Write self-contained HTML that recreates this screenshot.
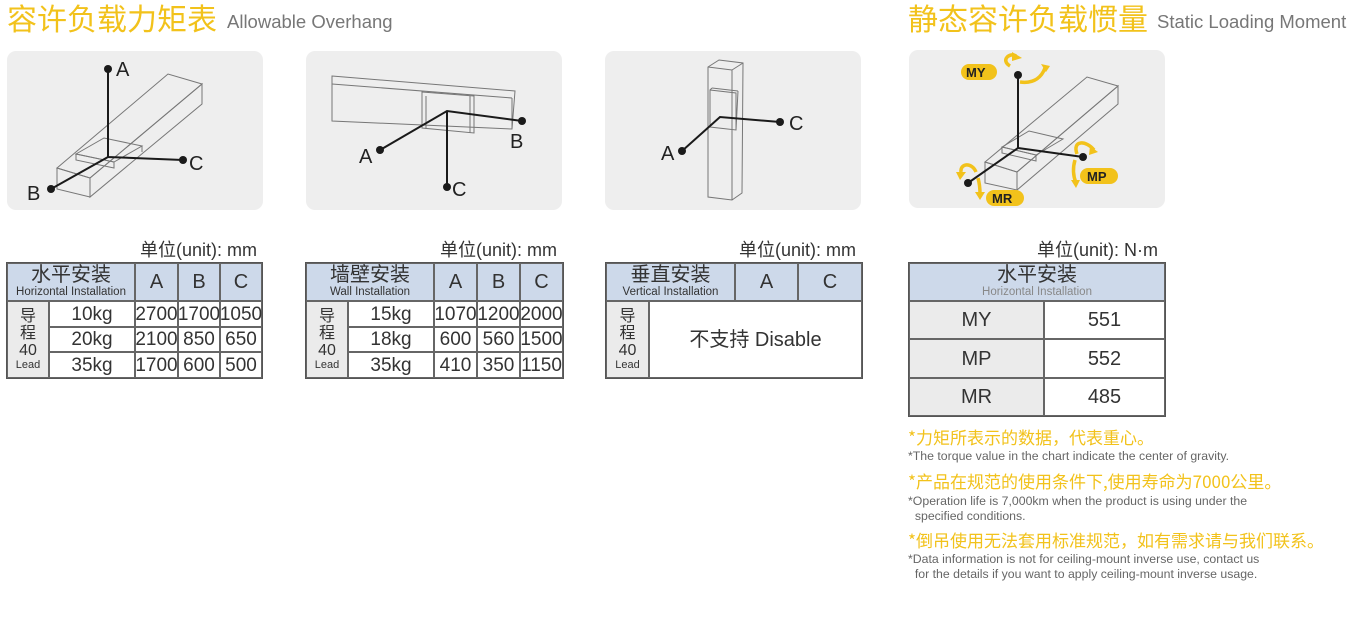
<!DOCTYPE html>
<html><head><meta charset="utf-8"><style>
*{margin:0;padding:0;box-sizing:border-box}
body{width:1370px;height:618px;background:#fff;position:relative;overflow:hidden;font-family:"Liberation Sans","Noto Sans CJK SC",sans-serif;color:#333}
.a{position:absolute;white-space:nowrap}
.t{color:#f2c21b;font-size:30px;font-family:"Noto Sans CJK SC",sans-serif;line-height:34px}
.ts{color:#777;font-size:18.5px;font-family:"Liberation Sans",sans-serif}
.panel{position:absolute;background:#eeeeee;border-radius:9px}
.cell{position:absolute;display:flex;align-items:center;justify-content:center;flex-direction:column;border:1px solid #666;font-size:19px;line-height:1;color:#333}
.h{background:#cdd9ea}
.h:not(.w){font-size:20px}
.g{background:#ebebeb}
.unit{position:absolute;font-size:18px;font-family:"Liberation Sans","Noto Sans CJK SC",sans-serif;color:#333}
.n1{color:#f2c21b;font-size:17px;font-family:"Noto Sans CJK SC",sans-serif}
.n2{color:#666;font-size:12.3px;line-height:14.5px}
</style></head><body>
<div class="a t" style="left:7px;top:0px">容许负载力矩表</div>
<div class="a ts" style="left:227px;top:11px">Allowable Overhang</div>
<div class="a t" style="left:908px;top:0px">静态容许负载惯量</div>
<div class="a ts" style="left:1157px;top:11px">Static Loading Moment</div>

<div class="panel" style="left:7px;top:51px;width:256px;height:159px"></div>
<div class="panel" style="left:306px;top:51px;width:256px;height:159px"></div>
<div class="panel" style="left:605px;top:51px;width:256px;height:159px"></div>
<div class="panel" style="left:909px;top:50px;width:256px;height:158px"></div>

<svg class="a" style="left:0;top:0" width="1370" height="618" font-family="Liberation Sans,sans-serif" font-size="20" fill="#222">
<g fill="none" stroke="#777" stroke-width="1">
<polygon points="57,168 168,74 202,84 90,178"/>
<polygon points="90,178 202,84 202,104 90,197"/>
<polygon points="57,168 90,178 90,197 57,189"/>
<polygon points="76,154 104,138 142,146 114,162"/>
<polygon points="76,154 114,162 114,168 76,160"/>
<line x1="142" y1="146" x2="142" y2="152"/>
<polygon points="332,76 515,91 512,129 332,121"/>
<line x1="332" y1="84" x2="512" y2="98"/>
<line x1="512" y1="98" x2="512" y2="129"/>
<polygon points="422,92 474,96 474,133 422,128"/>
<line x1="426" y1="96" x2="426" y2="129"/>
<line x1="470" y1="96" x2="470" y2="133"/>
<polygon points="708,67 719,60 743,63 742,193 732,200 708,197"/>
<line x1="708" y1="67" x2="732" y2="70"/>
<line x1="732" y1="70" x2="743" y2="63"/>
<line x1="732" y1="70" x2="732" y2="200"/>
<polygon points="710,90 736,93 736,130 710,127"/>
<line x1="710" y1="90" x2="712" y2="88"/><line x1="712" y1="88" x2="738" y2="91"/><line x1="738" y1="91" x2="736" y2="130"/>
<polygon points="985,162 1087,77 1118,86 1017,172"/>
<polygon points="1017,172 1118,86 1118,104 1017,190"/>
<polygon points="985,162 1017,172 1017,190 985,183"/>
<polygon points="1002,147 1029,131 1063,139 1036,155"/>
<polygon points="1002,147 1036,155 1036,161 1002,153"/>
</g>
<g stroke="#1a1a1a" stroke-width="2" fill="none">
<polyline points="108,69 108,157 183,160"/><line x1="108" y1="157" x2="51" y2="189"/>
<polyline points="380,150 447,111 522,121"/><line x1="447" y1="111" x2="447" y2="187"/>
<polyline points="682,151 720,117 780,122"/>
<polyline points="1018,75 1018,148 1083,157"/><line x1="1018" y1="148" x2="968" y2="183"/>
</g>
<g fill="#1a1a1a">
<circle cx="108" cy="69" r="4"/><circle cx="183" cy="160" r="4"/><circle cx="51" cy="189" r="4"/>
<circle cx="380" cy="150" r="4"/><circle cx="522" cy="121" r="4"/><circle cx="447" cy="187" r="4"/>
<circle cx="682" cy="151" r="4"/><circle cx="780" cy="122" r="4"/>
<circle cx="1018" cy="75" r="4"/><circle cx="1083" cy="157" r="4"/><circle cx="968" cy="183" r="4"/>
</g>
<text x="116" y="76">A</text><text x="189" y="170">C</text><text x="27" y="200">B</text>
<text x="359" y="163">A</text><text x="510" y="148">B</text><text x="452" y="196">C</text>
<text x="661" y="160">A</text><text x="789" y="130">C</text>
<g fill="none" stroke="#f2c21b" stroke-width="3.5">
<path d="M1010,66 C1000,60 1010,52 1016,56"/>
<path d="M1020,82 C1035,84 1042,76 1045,68"/>
<path d="M1077,154 C1072,140 1086,140 1094,150"/>
<path d="M1075,160 C1072,170 1074,178 1076,183"/>
<path d="M961,172 C960,163 972,162 976,172"/>
<path d="M978,178 C980,185 980,190 980,194"/>
</g>
<g fill="#f2c21b">
<polygon points="1012,52 1022,58 1012,61"/><polygon points="1041,64 1050,66 1046,72"/>
<polygon points="1090,146 1098,152 1089,155"/><polygon points="1071,180 1080,180 1076,188"/>
<polygon points="956,172 966,172 960,180"/><polygon points="975,192 985,192 980,200"/>
<rect x="961" y="64" width="36" height="16" rx="8"/><rect x="1080" y="168" width="38" height="16" rx="8"/><rect x="986" y="190" width="38" height="16" rx="8"/>
</g>
<g font-weight="bold" font-size="13" fill="#222">
<text x="966" y="77">MY</text><text x="1087" y="181">MP</text><text x="992" y="203">MR</text>
</g>
</svg>

<div class="unit" style="left:140px;top:236px">单位(unit): mm</div>
<div class="unit" style="left:440px;top:236px">单位(unit): mm</div>
<div class="unit" style="left:739px;top:236px">单位(unit): mm</div>
<div class="unit" style="left:1037px;top:236px">单位(unit): N·m</div>

<div style="position:absolute;left:6px;top:262px;width:257px;height:117px;border:1.5px solid #555"></div>
<div class="cell h" style="left:7px;top:263px;width:128px;height:38px"><span>水平安装</span><span style="font-size:11.5px;margin-top:2px">Horizontal Installation</span></div>
<div class="cell h" style="left:135px;top:263px;width:43px;height:38px">A</div>
<div class="cell h" style="left:178px;top:263px;width:42px;height:38px">B</div>
<div class="cell h" style="left:220px;top:263px;width:42px;height:38px">C</div>
<div class="cell g" style="left:7px;top:301px;width:42px;height:77px;font-size:16px;line-height:17px"><span>导</span><span>程</span><span>40</span><span style="font-size:11px;line-height:13px">Lead</span></div>
<div class="cell" style="left:49px;top:301px;width:86px;height:26px">10kg</div>
<div class="cell" style="left:49px;top:327px;width:86px;height:25px">20kg</div>
<div class="cell" style="left:49px;top:352px;width:86px;height:26px">35kg</div>
<div class="cell" style="left:135px;top:301px;width:43px;height:26px">2700</div>
<div class="cell" style="left:178px;top:301px;width:42px;height:26px">1700</div>
<div class="cell" style="left:220px;top:301px;width:42px;height:26px">1050</div>
<div class="cell" style="left:135px;top:327px;width:43px;height:25px">2100</div>
<div class="cell" style="left:178px;top:327px;width:42px;height:25px">850</div>
<div class="cell" style="left:220px;top:327px;width:42px;height:25px">650</div>
<div class="cell" style="left:135px;top:352px;width:43px;height:26px">1700</div>
<div class="cell" style="left:178px;top:352px;width:42px;height:26px">600</div>
<div class="cell" style="left:220px;top:352px;width:42px;height:26px">500</div>

<div style="position:absolute;left:305px;top:262px;width:259px;height:117px;border:1.5px solid #555"></div>
<div class="cell h" style="left:306px;top:263px;width:128px;height:38px"><span>墙壁安装</span><span style="font-size:11.5px;margin-top:2px">Wall Installation</span></div>
<div class="cell h" style="left:434px;top:263px;width:43px;height:38px">A</div>
<div class="cell h" style="left:477px;top:263px;width:43px;height:38px">B</div>
<div class="cell h" style="left:520px;top:263px;width:43px;height:38px">C</div>
<div class="cell g" style="left:306px;top:301px;width:42px;height:77px;font-size:16px;line-height:17px"><span>导</span><span>程</span><span>40</span><span style="font-size:11px;line-height:13px">Lead</span></div>
<div class="cell" style="left:348px;top:301px;width:86px;height:26px">15kg</div>
<div class="cell" style="left:348px;top:327px;width:86px;height:25px">18kg</div>
<div class="cell" style="left:348px;top:352px;width:86px;height:26px">35kg</div>
<div class="cell" style="left:434px;top:301px;width:43px;height:26px">1070</div>
<div class="cell" style="left:477px;top:301px;width:43px;height:26px">1200</div>
<div class="cell" style="left:520px;top:301px;width:43px;height:26px">2000</div>
<div class="cell" style="left:434px;top:327px;width:43px;height:25px">600</div>
<div class="cell" style="left:477px;top:327px;width:43px;height:25px">560</div>
<div class="cell" style="left:520px;top:327px;width:43px;height:25px">1500</div>
<div class="cell" style="left:434px;top:352px;width:43px;height:26px">410</div>
<div class="cell" style="left:477px;top:352px;width:43px;height:26px">350</div>
<div class="cell" style="left:520px;top:352px;width:43px;height:26px">1150</div>

<div style="position:absolute;left:605px;top:262px;width:258px;height:117px;border:1.5px solid #555"></div>
<div class="cell h" style="left:606px;top:263px;width:129px;height:38px"><span>垂直安装</span><span style="font-size:11.5px;margin-top:2px">Vertical Installation</span></div>
<div class="cell h" style="left:735px;top:263px;width:63px;height:38px">A</div>
<div class="cell h" style="left:798px;top:263px;width:64px;height:38px">C</div>
<div class="cell g" style="left:606px;top:301px;width:43px;height:77px;font-size:16px;line-height:17px"><span>导</span><span>程</span><span>40</span><span style="font-size:11px;line-height:13px">Lead</span></div>
<div class="cell" style="left:649px;top:301px;width:213px;height:77px;font-size:20px">不支持 Disable</div>

<div style="position:absolute;left:908px;top:262px;width:258px;height:155px;border:1.5px solid #555"></div>
<div class="cell h" style="left:909px;top:263px;width:256px;height:38px"><span>水平安装</span><span style="font-size:11.5px;margin-top:2px;color:#888">Horizontal Installation</span></div>
<div class="cell g" style="left:909px;top:301px;width:135px;height:38px;font-size:20px">MY</div>
<div class="cell" style="left:1044px;top:301px;width:121px;height:38px;font-size:20px">551</div>
<div class="cell g" style="left:909px;top:339px;width:135px;height:39px;font-size:20px">MP</div>
<div class="cell" style="left:1044px;top:339px;width:121px;height:39px;font-size:20px">552</div>
<div class="cell g" style="left:909px;top:378px;width:135px;height:38px;font-size:20px">MR</div>
<div class="cell" style="left:1044px;top:378px;width:121px;height:38px;font-size:20px">485</div>

<div class="a n1" style="left:908px;top:424px">*力矩所表示的数据，代表重心。</div>
<div class="a n2" style="left:908px;top:449px">*The torque value in the chart indicate the center of gravity.</div>
<div class="a n1" style="left:908px;top:468px">*产品在规范的使用条件下,使用寿命为7000公里。</div>
<div class="a n2" style="left:908px;top:494px">*Operation life is 7,000km when the product is using under the<br>&nbsp;&nbsp;specified conditions.</div>
<div class="a n1" style="left:908px;top:527px">*倒吊使用无法套用标准规范，如有需求请与我们联系。</div>
<div class="a n2" style="left:908px;top:552px">*Data information is not for ceiling-mount inverse use, contact us<br>&nbsp;&nbsp;for the details if you want to apply ceiling-mount inverse usage.</div>
</body></html>
